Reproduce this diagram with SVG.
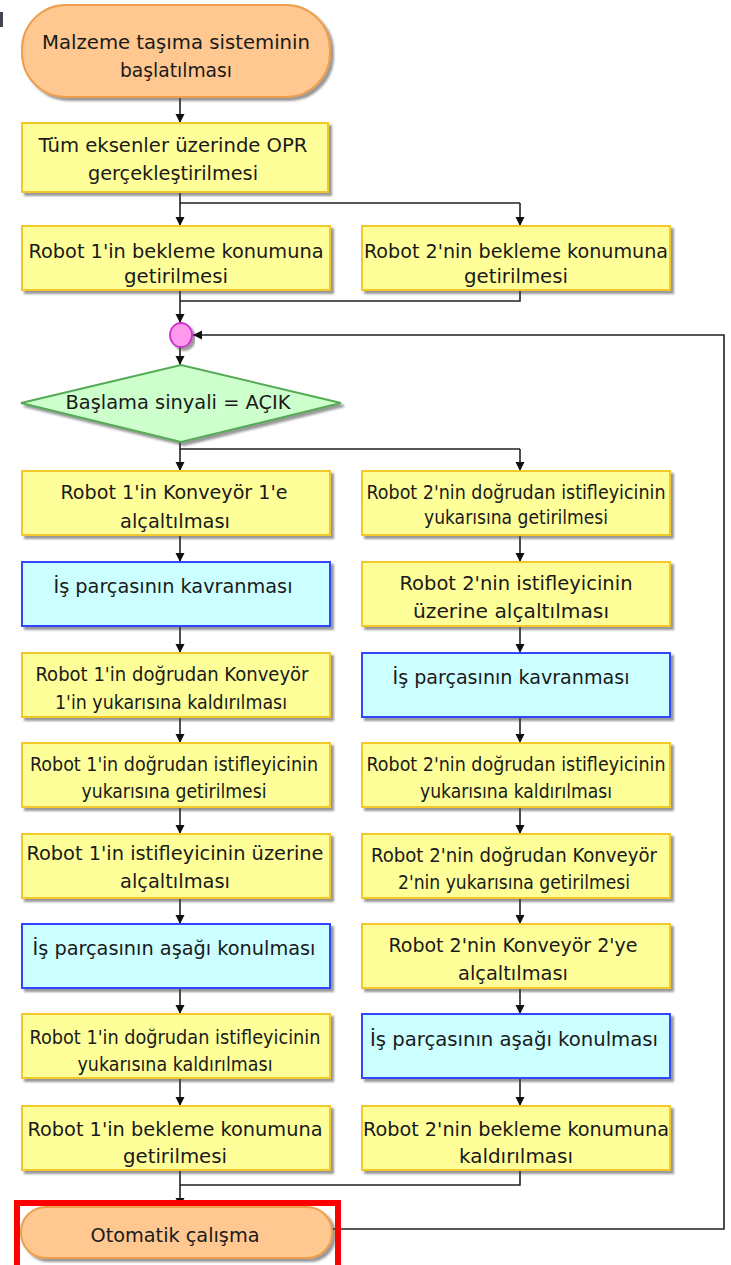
<svg xmlns="http://www.w3.org/2000/svg" width="731" height="1265" viewBox="0 0 731 1265">
<defs>
<filter id="sh" x="-5%" y="-10%" width="115%" height="130%">
<feDropShadow dx="3" dy="3" stdDeviation="1.2" flood-color="#444" flood-opacity="0.55"/>
</filter>
<marker id="ah" markerUnits="userSpaceOnUse" markerWidth="10" markerHeight="10" refX="9" refY="5" orient="auto">
<path d="M0,0.5 L9,5 L0,9.5 z" fill="#111"/>
</marker>
</defs>
<style>
.t{font-family:"DejaVu Sans Condensed","DejaVu Sans",sans-serif;font-size:20px;fill:#1a1a1a;text-anchor:middle}
.y{fill:#FFFF99;stroke:#F2C72A;stroke-width:2}
.b{fill:#CCFFFF;stroke:#3344FF;stroke-width:2}
.term{fill:#FFC891;stroke:#EE9E4E;stroke-width:2}
.c{fill:none;stroke:#222;stroke-width:1.6}
.a{fill:none;stroke:#222;stroke-width:1.6;marker-end:url(#ah)}
</style>
<rect width="731" height="1265" fill="#fff"/>
<rect x="0" y="12" width="3" height="15" fill="#445"/>

<g id="connectors">
<line class="a" x1="180" y1="97" x2="180" y2="123"/>
<polyline class="c" points="180,192 180,203 520,203"/>
<line class="a" x1="180" y1="203" x2="180" y2="226"/>
<line class="a" x1="520" y1="203" x2="520" y2="226"/>
<polyline class="c" points="520,290 520,301 180,301"/>
<line class="a" x1="180" y1="290" x2="180" y2="323"/>
<line class="a" x1="180" y1="347" x2="180" y2="365"/>
<polyline class="c" points="180,442 180,449 520,449"/>
<line class="a" x1="180" y1="449" x2="180" y2="471"/>
<line class="a" x1="520" y1="449" x2="520" y2="471"/>
<line class="a" x1="180" y1="535" x2="180" y2="562"/>
<line class="a" x1="180" y1="626" x2="180" y2="653"/>
<line class="a" x1="180" y1="717" x2="180" y2="743"/>
<line class="a" x1="180" y1="807" x2="180" y2="834"/>
<line class="a" x1="180" y1="898" x2="180" y2="924"/>
<line class="a" x1="180" y1="988" x2="180" y2="1014"/>
<line class="a" x1="180" y1="1078" x2="180" y2="1106"/>
<line class="a" x1="520" y1="535" x2="520" y2="562"/>
<line class="a" x1="520" y1="626" x2="520" y2="653"/>
<line class="a" x1="520" y1="717" x2="520" y2="743"/>
<line class="a" x1="520" y1="807" x2="520" y2="834"/>
<line class="a" x1="520" y1="898" x2="520" y2="924"/>
<line class="a" x1="520" y1="988" x2="520" y2="1014"/>
<line class="a" x1="520" y1="1078" x2="520" y2="1106"/>
<polyline class="c" points="520,1170 520,1185 180,1185"/>
<line class="a" x1="180" y1="1170" x2="180" y2="1207"/>
<polyline class="a" points="332,1229 724,1229 724,335 193,335"/>
</g>

<g id="start">
<rect class="term" x="22" y="5" width="308" height="92" rx="44" filter="url(#sh)"/>
<text class="t" x="176" y="49" textLength="268" lengthAdjust="spacingAndGlyphs">Malzeme taşıma sisteminin</text>
<text class="t" x="176" y="77" textLength="112" lengthAdjust="spacingAndGlyphs">başlatılması</text>
</g>
<g id="opr">
<rect class="y" x="22" y="123" width="306" height="69" filter="url(#sh)"/>
<text class="t" x="173" y="152" textLength="269" lengthAdjust="spacingAndGlyphs">Tüm eksenler üzerinde OPR</text>
<text class="t" x="173" y="180" textLength="170" lengthAdjust="spacingAndGlyphs">gerçekleştirilmesi</text>
</g>
<g id="r1wait">
<rect class="y" x="22" y="226" width="308" height="64" filter="url(#sh)"/>
<text class="t" x="176" y="258" textLength="295" lengthAdjust="spacingAndGlyphs">Robot 1'in bekleme konumuna</text>
<text class="t" x="176" y="283" textLength="104" lengthAdjust="spacingAndGlyphs">getirilmesi</text>
</g>
<g id="r2wait">
<rect class="y" x="362" y="226" width="308" height="64" filter="url(#sh)"/>
<text class="t" x="516" y="258" textLength="304" lengthAdjust="spacingAndGlyphs">Robot 2'nin bekleme konumuna</text>
<text class="t" x="516" y="283" textLength="104" lengthAdjust="spacingAndGlyphs">getirilmesi</text>
</g>
<g id="join">
<ellipse cx="181" cy="335" rx="11" ry="12" fill="#FF99EE" stroke="#CC33CC" stroke-width="1.8" filter="url(#sh)"/>
</g>
<g id="decision">
<polygon points="21,403 181,365 341,403 181,442" fill="#CCFFCC" stroke="#55AA55" stroke-width="2" filter="url(#sh)"/>
<text class="t" x="178" y="409" textLength="225" lengthAdjust="spacingAndGlyphs">Başlama sinyali = AÇIK</text>
</g>

<g id="L1"><rect class="y" x="22" y="471" width="308" height="64" filter="url(#sh)"/>
<text class="t" x="174" y="499" textLength="227" lengthAdjust="spacingAndGlyphs">Robot 1'in Konveyör 1'e</text>
<text class="t" x="175" y="528" textLength="110" lengthAdjust="spacingAndGlyphs">alçaltılması</text></g>
<g id="L2"><rect class="b" x="22" y="562" width="308" height="64" filter="url(#sh)"/>
<text class="t" x="173" y="593" textLength="239" lengthAdjust="spacingAndGlyphs">İş parçasının kavranması</text></g>
<g id="L3"><rect class="y" x="22" y="653" width="308" height="64" filter="url(#sh)"/>
<text class="t" x="172" y="681" textLength="273" lengthAdjust="spacingAndGlyphs">Robot 1'in doğrudan Konveyör</text>
<text class="t" x="171" y="709" textLength="232" lengthAdjust="spacingAndGlyphs">1'in yukarısına kaldırılması</text></g>
<g id="L4"><rect class="y" x="22" y="743" width="308" height="64" filter="url(#sh)"/>
<text class="t" x="174" y="771" textLength="288" lengthAdjust="spacingAndGlyphs">Robot 1'in doğrudan istifleyicinin</text>
<text class="t" x="174" y="798" textLength="185" lengthAdjust="spacingAndGlyphs">yukarısına getirilmesi</text></g>
<g id="L5"><rect class="y" x="22" y="834" width="308" height="64" filter="url(#sh)"/>
<text class="t" x="175" y="860" textLength="297" lengthAdjust="spacingAndGlyphs">Robot 1'in istifleyicinin üzerine</text>
<text class="t" x="175" y="888" textLength="110" lengthAdjust="spacingAndGlyphs">alçaltılması</text></g>
<g id="L6"><rect class="b" x="22" y="924" width="308" height="64" filter="url(#sh)"/>
<text class="t" x="174" y="955" textLength="283" lengthAdjust="spacingAndGlyphs">İş parçasının aşağı konulması</text></g>
<g id="L7"><rect class="y" x="22" y="1014" width="308" height="64" filter="url(#sh)"/>
<text class="t" x="175" y="1044" textLength="291" lengthAdjust="spacingAndGlyphs">Robot 1'in doğrudan istifleyicinin</text>
<text class="t" x="175" y="1071" textLength="195" lengthAdjust="spacingAndGlyphs">yukarısına kaldırılması</text></g>
<g id="L8"><rect class="y" x="22" y="1106" width="308" height="64" filter="url(#sh)"/>
<text class="t" x="175" y="1136" textLength="295" lengthAdjust="spacingAndGlyphs">Robot 1'in bekleme konumuna</text>
<text class="t" x="175" y="1163" textLength="104" lengthAdjust="spacingAndGlyphs">getirilmesi</text></g>

<g id="R1"><rect class="y" x="362" y="471" width="308" height="64" filter="url(#sh)"/>
<text class="t" x="516" y="499" textLength="299" lengthAdjust="spacingAndGlyphs">Robot 2'nin doğrudan istifleyicinin</text>
<text class="t" x="516" y="524" textLength="184" lengthAdjust="spacingAndGlyphs">yukarısına getirilmesi</text></g>
<g id="R2"><rect class="y" x="362" y="562" width="308" height="64" filter="url(#sh)"/>
<text class="t" x="516" y="590" textLength="233" lengthAdjust="spacingAndGlyphs">Robot 2'nin istifleyicinin</text>
<text class="t" x="511" y="618" textLength="196" lengthAdjust="spacingAndGlyphs">üzerine alçaltılması</text></g>
<g id="R3"><rect class="b" x="362" y="653" width="308" height="64" filter="url(#sh)"/>
<text class="t" x="511" y="684" textLength="237" lengthAdjust="spacingAndGlyphs">İş parçasının kavranması</text></g>
<g id="R4"><rect class="y" x="362" y="743" width="308" height="64" filter="url(#sh)"/>
<text class="t" x="516" y="771" textLength="299" lengthAdjust="spacingAndGlyphs">Robot 2'nin doğrudan istifleyicinin</text>
<text class="t" x="516" y="798" textLength="192" lengthAdjust="spacingAndGlyphs">yukarısına kaldırılması</text></g>
<g id="R5"><rect class="y" x="362" y="834" width="308" height="64" filter="url(#sh)"/>
<text class="t" x="514" y="862" textLength="286" lengthAdjust="spacingAndGlyphs">Robot 2'nin doğrudan Konveyör</text>
<text class="t" x="514" y="889" textLength="232" lengthAdjust="spacingAndGlyphs">2'nin yukarısına getirilmesi</text></g>
<g id="R6"><rect class="y" x="362" y="924" width="308" height="64" filter="url(#sh)"/>
<text class="t" x="513" y="952" textLength="249" lengthAdjust="spacingAndGlyphs">Robot 2'nin Konveyör 2'ye</text>
<text class="t" x="513" y="980" textLength="110" lengthAdjust="spacingAndGlyphs">alçaltılması</text></g>
<g id="R7"><rect class="b" x="362" y="1014" width="308" height="64" filter="url(#sh)"/>
<text class="t" x="514" y="1046" textLength="288" lengthAdjust="spacingAndGlyphs">İş parçasının aşağı konulması</text></g>
<g id="R8"><rect class="y" x="362" y="1106" width="308" height="64" filter="url(#sh)"/>
<text class="t" x="516" y="1136" textLength="306" lengthAdjust="spacingAndGlyphs">Robot 2'nin bekleme konumuna</text>
<text class="t" x="516" y="1163" textLength="114" lengthAdjust="spacingAndGlyphs">kaldırılması</text></g>

<g id="end">
<rect class="term" x="21" y="1207" width="311" height="51" rx="25" filter="url(#sh)"/>
<text class="t" x="175" y="1242" textLength="169" lengthAdjust="spacingAndGlyphs">Otomatik çalışma</text>
</g>
<g id="highlight">
<rect x="17" y="1203" width="321" height="80" fill="none" stroke="#FF0000" stroke-width="6"/>
</g>
</svg>
